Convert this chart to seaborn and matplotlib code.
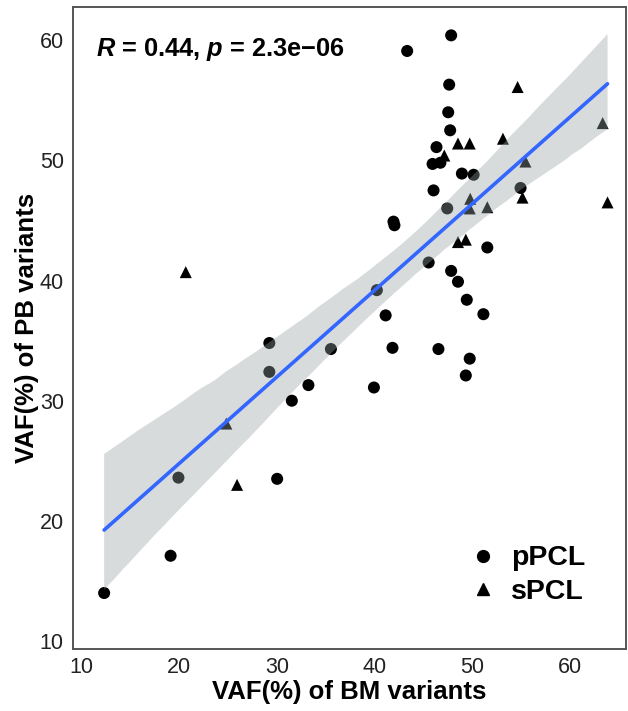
import matplotlib
matplotlib.use("Agg")
import matplotlib.pyplot as plt
from matplotlib.lines import Line2D
import seaborn as sns
import pandas as pd

# pPCL (circles)
ppcl_bm = [12.3, 19.1, 19.9, 30.0, 29.2, 29.2, 35.5, 33.2, 31.5, 47.4, 41.9, 42.0,
           51.5, 45.5, 47.8, 48.5, 40.2, 49.4, 51.1, 41.1, 41.8, 46.5, 49.7, 49.3,
           39.9, 47.8, 43.3, 47.6, 47.5, 47.7, 46.3, 45.9, 46.7, 48.9, 50.1, 46.0, 54.9]
ppcl_pb = [14.0, 17.1, 23.6, 23.5, 34.8, 32.4, 34.3, 31.3, 30.0, 46.0, 44.9, 44.6,
           42.75, 41.5, 40.8, 39.9, 39.2, 38.4, 37.2, 37.1, 34.4, 34.3, 33.5, 32.1,
           31.1, 60.4, 59.1, 56.3, 54.0, 52.5, 51.1, 49.7, 49.8, 48.9, 48.8, 47.5, 47.7]
# sPCL (triangles)
spcl_bm = [20.65, 24.8, 25.9, 54.6, 63.3, 53.1, 48.5, 49.7, 47.1, 55.4, 49.75, 49.7,
           51.5, 55.1, 63.8, 48.5, 49.3]
spcl_pb = [40.7, 28.1, 23.0, 56.1, 53.1, 51.8, 51.4, 51.4, 50.4, 49.9, 46.8, 46.0,
           46.1, 46.9, 46.5, 43.2, 43.4]

groups = ["pPCL", "sPCL"]
x_ticks = [10, 20, 30, 40, 50, 60]
y_ticks = [10, 20, 30, 40, 50, 60]

df = pd.DataFrame({
    "bm": ppcl_bm + spcl_bm,
    "pb": ppcl_pb + spcl_pb,
    "group": [groups[0]] * len(ppcl_bm) + [groups[1]] * len(spcl_bm),
})

sns.set_style("white")
plt.rcParams["font.family"] = ["Liberation Sans", "DejaVu Sans"]
plt.rcParams["text.color"] = "black"
plt.rcParams["axes.labelcolor"] = "black"
plt.rcParams["mathtext.fontset"] = "custom"
plt.rcParams["mathtext.it"] = "Liberation Sans:italic:bold"
plt.rcParams["mathtext.rm"] = "Liberation Sans:bold"

fig = plt.figure(figsize=(6.28, 7.11), dpi=100)
ax = fig.add_axes([0.116, 0.087, 0.881, 0.903])

sns.scatterplot(data=df, x="bm", y="pb", style="group",
                markers={"pPCL": "o", "sPCL": "^"}, color="black",
                s=75, edgecolor="none", legend=False, ax=ax, zorder=2)

sns.regplot(data=df, x="bm", y="pb", scatter=False, ax=ax, seed=0,
            line_kws={"color": "#3366FF", "lw": 2.6, "zorder": 4})
poly = ax.collections[-1]
poly.set_facecolor("#96a2a2")
poly.set_alpha(0.38)
poly.set_edgecolor("none")
poly.set_zorder(3)

ax.set_xlim(9.1, 65.7)
ax.set_ylim(9.33, 62.75)
ax.set_xticks(x_ticks)
ax.set_yticks(y_ticks)
ax.tick_params(axis="both", labelsize=15.5, colors="#222222", length=2, width=1,
               pad=4)
ax.tick_params(axis="y", pad=4.5)
ax.set_xlabel("VAF(%) of BM variants", fontsize=18.5, fontweight="bold", labelpad=1)
ax.set_ylabel("VAF(%) of PB variants", fontsize=18.5, fontweight="bold", labelpad=0.5)
for sp in ax.spines.values():
    sp.set_color("#555555")
    sp.set_linewidth(1.4)
    sp.set_visible(True)

ax.text(11.5, 59.2, r"$R$ = 0.44, $p$ = 2.3e" + "\u221206", fontsize=18.3,
        fontweight="bold", ha="left", va="center")

handles = [Line2D([], [], marker="o", color="black", ls="none", markersize=8.5),
           Line2D([], [], marker="^", color="black", ls="none", markersize=8.5)]
leg = ax.legend(handles, groups, loc="center left", frameon=False,
                bbox_to_anchor=(0.669, 0.115), prop={"size": 20.5, "weight": "bold"},
                handletextpad=0.5, labelspacing=0.27, handlelength=1.0)

fig.savefig("out.png", dpi=100)
